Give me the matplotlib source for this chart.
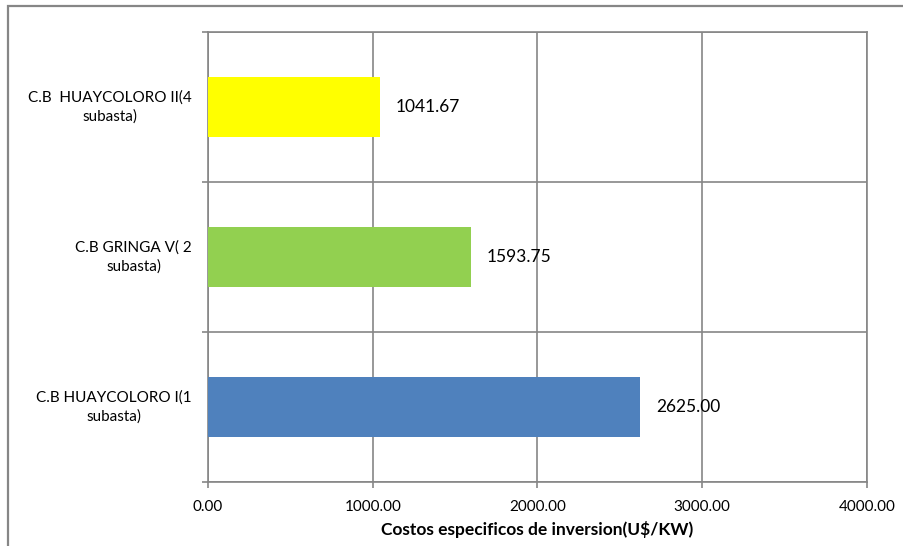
import numpy as np
import matplotlib.pyplot as plt
from matplotlib.patches import Rectangle
from matplotlib.transforms import offset_copy

# data
categorias = ['C.B HUAYCOLORO I(1\nsubasta)',
              'C.B GRINGA V( 2\nsubasta)',
              'C.B  HUAYCOLORO II(4\nsubasta)']
costos = [2625.00, 1593.75, 1041.67]
colores = ['#4F81BD', '#92D050', '#FFFF00']
xticks = [0, 1000, 2000, 3000, 4000]

plt.rcParams['font.family'] = ['Lato', 'DejaVu Sans']
gris = '#868686'

fig = plt.figure(figsize=(9.04, 5.46), dpi=100)
ax = fig.add_axes([208/904, 1 - 482/546, (867 - 208)/904, (482 - 32)/546])

# outer chart border (cropped at right and bottom)
fig.patches.append(Rectangle((7.5/904, -0.1), 1.2, 1 - 5.5/546 + 0.1,
                             transform=fig.transFigure, fill=False,
                             edgecolor=gris, linewidth=1.6))

y = np.arange(len(categorias))
ax.barh(y, costos, height=0.4, color=colores, zorder=3)

for yi, v in zip(y, costos):
    ax.annotate('%.2f' % v, (v, yi), xytext=(11.5, 0), textcoords='offset points',
                va='center', ha='left', fontsize=12.5, color='black', zorder=4)

ax.set_xlim(0, 4000)
ax.set_ylim(-0.5, 2.5)
ax.set_xticks(xticks)
ax.set_xticklabels(['%.2f' % t for t in xticks], fontsize=11)
ax.set_yticks([])
ax.set_yticks([-0.5, 0.5, 1.5, 2.5], minor=True)

# category labels, centred lines, right edge 16px left of the axis
trans = offset_copy(ax.get_yaxis_transform(), fig=fig, x=-16, y=0, units='dots')
for yi, cat in zip(y, categorias):
    ax.text(0, yi, cat, transform=trans, ha='right', va='center',
            multialignment='center', linespacing=1.45, fontsize=11)

ax.tick_params(axis='y', which='minor', length=4, color=gris, width=1.2, direction='out')
ax.tick_params(axis='x', which='major', length=4, color=gris, width=1.2, pad=9)

ax.grid(axis='x', which='major', color=gris, linewidth=1.2, zorder=0)
ax.grid(axis='y', which='minor', color=gris, linewidth=1.2, zorder=0)

for s in ax.spines.values():
    s.set_color(gris)
    s.set_linewidth(1.2)

ax.set_xlabel('Costos especificos de inversion(U$/KW)', fontsize=12.5,
              fontweight='bold', labelpad=5)

fig.savefig('out.png', dpi=100)
